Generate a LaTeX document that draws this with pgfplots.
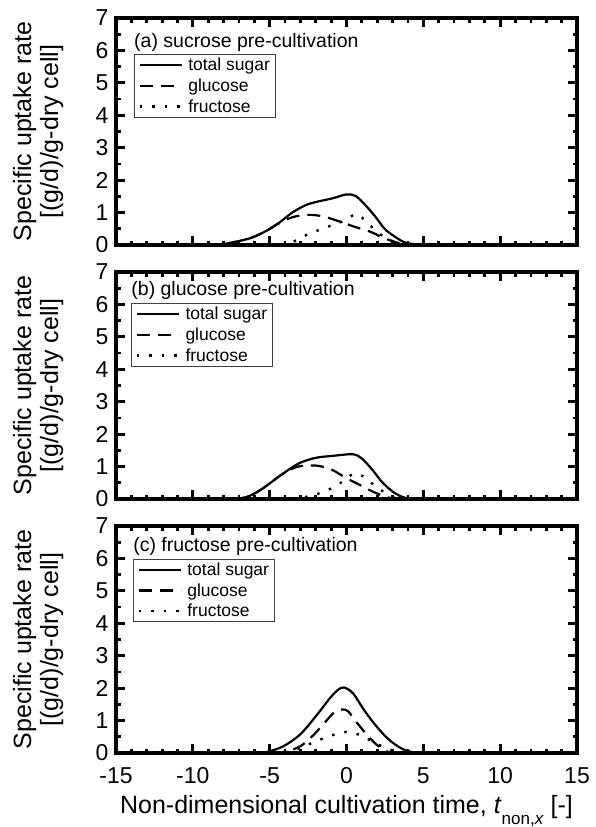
\documentclass[border=0pt]{standalone}
\usepackage{fontspec}
\setmainfont{Liberation Sans}
\usepackage{pgfplots}
\pgfplotsset{compat=1.18}

\pgfplotstableread{
t v
-9 0
-8 0.03
-6.9 0.13
-6.1 0.24
-5.2 0.44
-4.35 0.70
-3.5 1.01
-2.6 1.24
-1.77 1.35
-0.9 1.44
0 1.56
0.6 1.51
1.25 1.22
1.9 0.86
2.5 0.49
3.2 0.24
3.8 0.08
4.7 0.01
5.3 0
}\aTotal
\pgfplotstableread{
t v
-9 0
-8 0.03
-6.9 0.13
-6.1 0.24
-5.2 0.44
-4.5 0.64
-3.5 0.86
-2.5 0.93
-1.6 0.89
-0.8 0.78
-0.3 0.70
0.6 0.55
1.25 0.46
1.7 0.38
2.5 0.20
3.4 0.06
4.05 0
}\aGlu
\pgfplotstableread{
t v
-4.2 0
-3.7 0.04
-3.3 0.14
-2.6 0.31
-1.8 0.46
-1.0 0.60
-0.3 0.72
0.3 0.88
0.6 0.96
1.0 0.85
1.5 0.62
2.0 0.40
2.75 0.17
3.6 0.03
4.2 0
}\aFru
\pgfplotstableread{
t v
-7.2 0
-6.5 0.06
-5.8 0.22
-5.2 0.41
-4.2 0.76
-3.1 1.10
-2.0 1.27
-0.9 1.33
0.4 1.38
1.0 1.25
1.7 0.89
2.3 0.53
3.0 0.23
3.6 0.07
4.2 0
}\bTotal
\pgfplotstableread{
t v
-7.2 0
-6.5 0.06
-5.8 0.22
-5.2 0.41
-4.2 0.76
-3.3 0.98
-2.6 1.03
-1.8 1.02
-0.9 0.89
0 0.64
0.8 0.45
1.7 0.23
2.55 0.07
3.2 0
}\bGlu
\pgfplotstableread{
t v
-3.5 0
-2.6 0.07
-1.8 0.17
-0.9 0.35
0 0.62
0.5 0.79
1.25 0.66
1.9 0.38
2.8 0.12
3.4 0
}\bFru
\pgfplotstableread{
t v
-6 0
-5.2 0.03
-4.1 0.21
-3.0 0.58
-1.95 1.16
-1.1 1.68
-0.55 1.95
-0.15 2.02
0.43 1.84
1.08 1.37
1.73 0.95
2.4 0.58
3.0 0.32
3.7 0.11
4.5 0
}\cTotal
\pgfplotstableread{
t v
-4.8 0
-3.9 0.05
-3.0 0.21
-2.2 0.53
-1.5 0.89
-0.85 1.23
-0.3 1.34
0.1 1.29
0.65 0.95
1.3 0.58
1.95 0.26
2.6 0.05
3.0 0
}\cGlu
\pgfplotstableread{
t v
-4.8 0
-3.9 0.03
-3.0 0.16
-1.95 0.37
-0.85 0.56
0 0.65
0.85 0.56
1.7 0.35
2.6 0.14
3.45 0.02
4.0 0
}\cFru

\pgfplotsset{
  panel/.style={
    scale only axis, width=461pt, height=227pt, anchor=south west,
    xmin=-15, xmax=15, ymin=0, ymax=7,
    xtick={-15,-10,...,15}, ytick={0,1,...,7},
    minor x tick num=4, minor y tick num=1,
    tick align=inside, major tick length=9pt, minor tick length=4.5pt,
    tick style={line width=2.8pt, black},
    axis line style={line width=3.5pt},
    ticklabel style={font=\fontsize{23}{23}\selectfont},
    /pgf/number format/assume math mode=true,
    yticklabel style={xshift=-4pt},
    xticklabel style={anchor=base, yshift=-30pt},
    ylabel={Specific uptake rate\\{[}(g/d)/g-dry cell{]}},
    ylabel style={align=center, font=\fontsize{25}{27}\selectfont, at={(axis description cs:-0.169,0.5)}, anchor=center},
    legend cell align=left,
    legend style={anchor=north west, draw=black!75, line width=0.8pt,
      font=\fontsize{17.5}{19}\selectfont, inner xsep=4pt, inner ysep=2pt,
      row sep=3.5pt, nodes={inner sep=1.5pt}},
    legend image code/.code={\draw[#1] (0pt,0pt) -- (42pt,0pt); \path (46pt,0pt);},
  },
  tot/.style={black, line width=2.2pt, smooth, tension=0.5},
  glu/.style={black, line width=2.2pt, dash pattern=on 13pt off 8pt, smooth, tension=0.5},
  fru/.style={black, line width=2.4pt, dash pattern=on 2.5pt off 10pt, smooth, tension=0.5},
}

\begin{document}
\begin{tikzpicture}
\useasboundingbox (0,0) rectangle (596pt,-827pt);

\begin{axis}[panel, at={(116pt,-245pt)}, xticklabels={},
  legend style={at={(axis description cs:0.039,0.841)}}]
\addplot[tot] table[x=t,y=v] {\aTotal};
\addlegendentry{total sugar}
\addplot[glu] table[x=t,y=v] {\aGlu};
\addlegendentry{glucose}
\addplot[fru] table[x=t,y=v] {\aFru};
\addlegendentry{fructose}
\node[anchor=base west, inner sep=0pt, yshift=-29pt, font=\fontsize{19.5}{20}\selectfont] at (axis description cs:0.039,1) {(a) sucrose pre-cultivation};
\end{axis}

\begin{axis}[panel, at={(116pt,-499pt)}, xticklabels={},
  legend style={at={(axis description cs:0.033,0.863)}}]
\addplot[tot] table[x=t,y=v] {\bTotal};
\addlegendentry{total sugar}
\addplot[glu] table[x=t,y=v] {\bGlu};
\addlegendentry{glucose}
\addplot[fru] table[x=t,y=v] {\bFru};
\addlegendentry{fructose}
\node[anchor=base west, inner sep=0pt, yshift=-23pt, font=\fontsize{19.5}{20}\selectfont] at (axis description cs:0.033,1) {(b) glucose pre-cultivation};
\end{axis}

\begin{axis}[panel, at={(116pt,-753pt)},
  legend style={at={(axis description cs:0.037,0.855)}},
  xlabel={Non-dimensional cultivation time, \textit{t}\raisebox{-0.45em}{\fontsize{17}{17}\selectfont non,\textit{x}} [-]},
  xlabel style={font=\fontsize{25}{27}\selectfont, at={(axis description cs:0.5,0)}, anchor=base, yshift=-60pt}]
\addplot[tot] table[x=t,y=v] {\cTotal};
\addlegendentry{total sugar}
\addplot[glu] table[x=t,y=v] {\cGlu};
\addlegendentry{glucose}
\addplot[fru] table[x=t,y=v] {\cFru};
\addlegendentry{fructose}
\node[anchor=base west, inner sep=0pt, yshift=-25pt, font=\fontsize{19.5}{20}\selectfont] at (axis description cs:0.037,1) {(c) fructose pre-cultivation};
\end{axis}
\end{tikzpicture}
\end{document}
